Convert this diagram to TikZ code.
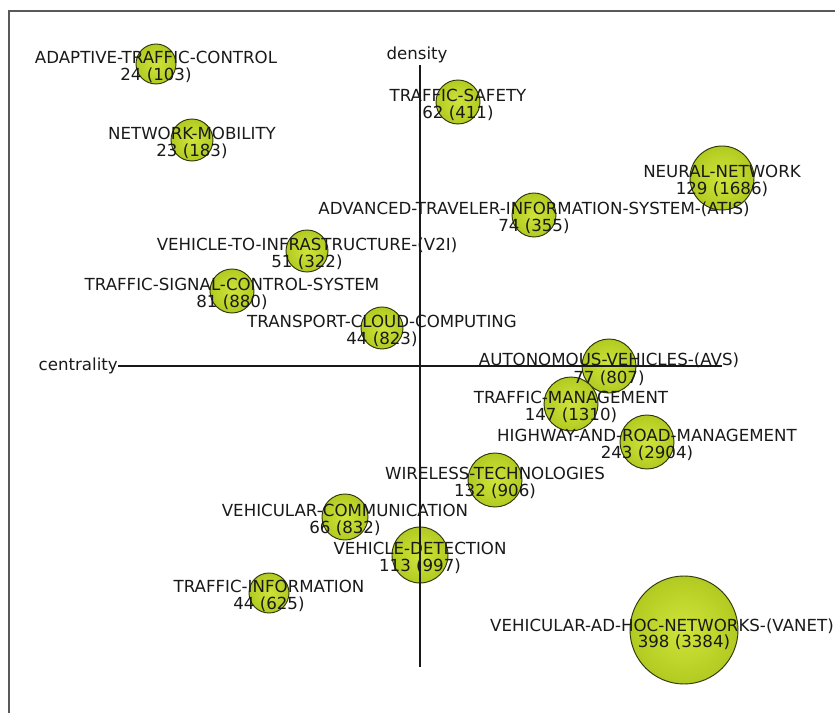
\documentclass[tikz,border=0pt]{standalone}
\usepackage{fontspec}
\setmainfont{DejaVu Sans}
\definecolor{ballin}{HTML}{CFE43A}
\definecolor{ballmid}{HTML}{B6CE24}
\definecolor{ballout}{HTML}{8EA40E}
\definecolor{balledge}{HTML}{2E360A}
\pgfdeclareradialshading{bubshade}{\pgfpoint{0bp}{0bp}}{color(0bp)=(ballin); color(22bp)=(ballmid); color(46bp)=(ballout); color(50bp)=(ballout)}
\tikzset{
  bubble/.style={circle, inner sep=0pt, minimum size=#1*0.06cm, draw=balledge, line width=0.8pt, shading=bubshade},
  lbl/.style={align=center, inner sep=0pt, text=black!90, font=\fontsize{14.2}{15}\selectfont},
  axislabel/.style={inner sep=0pt, text=black!90, font=\fontsize{14.2}{15}\selectfont},
  axisline/.style={line width=1.4pt, black!90},
  frameline/.style={draw=black!65, line width=1.8pt}
}
\begin{document}
\begin{tikzpicture}[x=0.03cm, y=-0.03cm]
\useasboundingbox (0,0) rectangle (835,713);
% frame (only left and top edges are visible)
\coordinate (fbl) at (9,720);
\coordinate (ftl) at (9,11);
\coordinate (ftr) at (840,11);
\draw[frameline] (fbl) -- (ftl) -- (ftr);
% bubbles
\node[bubble=20] (b1) at (156,64) {};
\node[bubble=21] (b2) at (192,140) {};
\node[bubble=22] (b3) at (458,102) {};
\node[bubble=32] (b4) at (722,178) {};
\node[bubble=22] (b5) at (534,215) {};
\node[bubble=21] (b6) at (307,251) {};
\node[bubble=22] (b7) at (232,291) {};
\node[bubble=21] (b8) at (382,328) {};
\node[bubble=27] (b9) at (609,366) {};
\node[bubble=27] (b10) at (571,404) {};
\node[bubble=27] (b11) at (647,442) {};
\node[bubble=27] (b12) at (495,480) {};
\node[bubble=23] (b13) at (345,517) {};
\node[bubble=28] (b14) at (420,555) {};
\node[bubble=20] (b15) at (269,593) {};
\node[bubble=54] (b16) at (684,630) {};
% axes
\node[axislabel] (density) at (417,55) {density};
\node[axislabel, anchor=east] (centrality) at (118,366) {centrality};
\coordinate (ytop) at (420,65);
\coordinate (ybot) at (420,667);
\coordinate (xend) at (722,366);
\draw[axisline] (ytop) -- (ybot);
\draw[axisline] (centrality.east) -- (xend);
% labels
\node[lbl] (l1) at (156,67) {ADAPTIVE-TRAFFIC-CONTROL\\24 (103)};
\node[lbl] (l2) at (192,143) {NETWORK-MOBILITY\\23 (183)};
\node[lbl] (l3) at (458,105) {TRAFFIC-SAFETY\\62 (411)};
\node[lbl] (l4) at (722,181) {NEURAL-NETWORK\\129 (1686)};
\node[lbl] (l5) at (534,218) {ADVANCED-TRAVELER-INFORMATION-SYSTEM-(ATIS)\\74 (355)};
\node[lbl] (l6) at (307,254) {VEHICLE-TO-INFRASTRUCTURE-(V2I)\\51 (322)};
\node[lbl] (l7) at (232,294) {TRAFFIC-SIGNAL-CONTROL-SYSTEM\\81 (880)};
\node[lbl] (l8) at (382,331) {TRANSPORT-CLOUD-COMPUTING\\44 (823)};
\node[lbl] (l9) at (609,369) {AUTONOMOUS-VEHICLES-(AVS)\\77 (807)};
\node[lbl] (l10) at (571,407) {TRAFFIC-MANAGEMENT\\147 (1310)};
\node[lbl] (l11) at (647,445) {HIGHWAY-AND-ROAD-MANAGEMENT\\243 (2904)};
\node[lbl] (l12) at (495,483) {WIRELESS-TECHNOLOGIES\\132 (906)};
\node[lbl] (l13) at (345,520) {VEHICULAR-COMMUNICATION\\66 (832)};
\node[lbl] (l14) at (420,558) {VEHICLE-DETECTION\\113 (997)};
\node[lbl] (l15) at (269,596) {TRAFFIC-INFORMATION\\44 (625)};
\node[lbl, anchor=east] (l16a) at (834,626) {VEHICULAR-AD-HOC-NETWORKS-(VANET)};
\node[lbl] (l16b) at (684,642) {398 (3384)};
\end{tikzpicture}
\end{document}
